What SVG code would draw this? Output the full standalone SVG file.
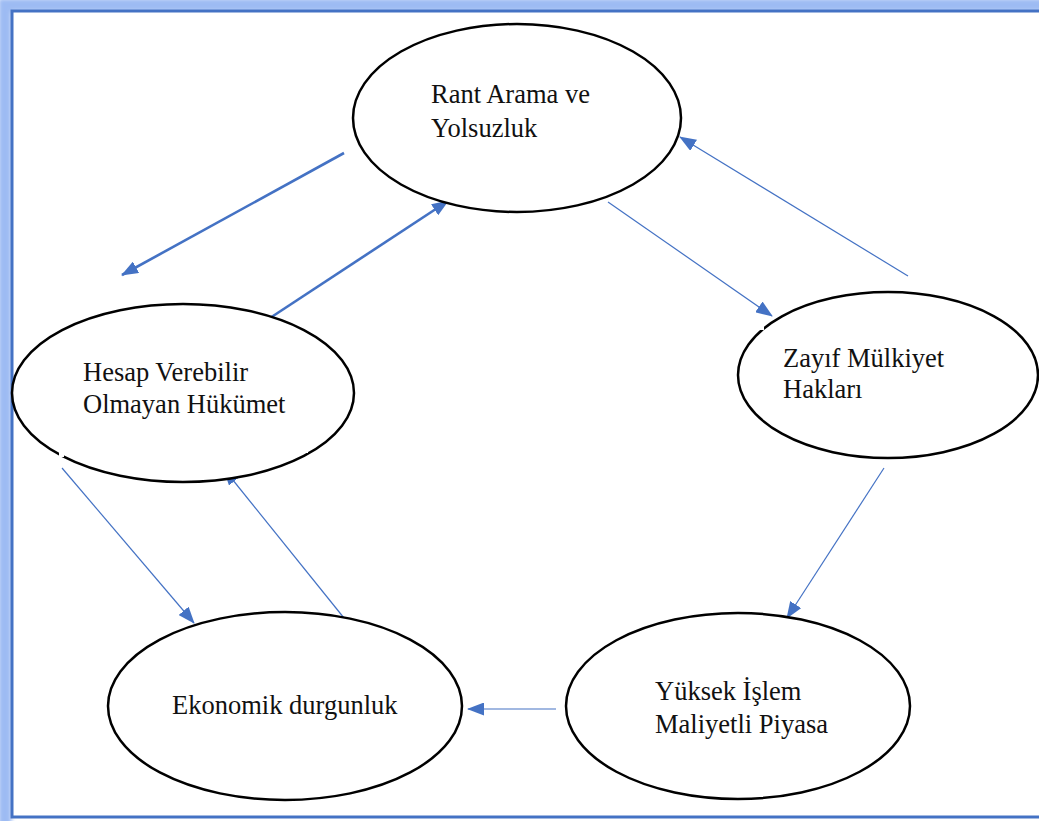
<svg xmlns="http://www.w3.org/2000/svg" width="1039" height="821" viewBox="0 0 1039 821">
  <defs>
    <style>
      .node ellipse { fill: #ffffff; stroke: #000000; stroke-width: 2.5; }
      .node text { font-family: "Liberation Serif", "Times New Roman", serif; font-size: 26.5px; fill: #111111; }
      .gap { fill: #ffffff; }
      .link { stroke: #4472C4; fill: none; }
      .thin { stroke-width: 1.2; marker-end: url(#head); }
      .thick { stroke-width: 2.6; marker-end: url(#head); }
    </style>
    <marker id="head" markerUnits="userSpaceOnUse" viewBox="0 0 17 13" markerWidth="17" markerHeight="13" refX="16" refY="6.5" orient="auto">
      <path d="M0,0 L17,6.5 L0,13 Z" fill="#4472C4"/>
    </marker>
    <filter id="glow" x="-5%" y="-5%" width="110%" height="110%">
      <feGaussianBlur stdDeviation="2"/>
    </filter>
  </defs>

  <rect width="1039" height="821" fill="#ffffff"/>

  <!-- page frame with soft outer glow -->
  <g id="frame">
    <rect x="5" y="5" width="1060" height="830" fill="none" stroke="#9DBBF3" stroke-width="13" filter="url(#glow)"/>
    <rect x="12" y="11" width="1060" height="806" fill="#ffffff" stroke="#4472C4" stroke-width="3"/>
  </g>

  <!-- connectors -->
  <g id="connectors">
    <line class="link thick" x1="344" y1="153" x2="122" y2="275"/>
    <line class="link thick" x1="270" y1="318" x2="448" y2="201"/>
    <line class="link thin" x1="608" y1="202" x2="772" y2="316"/>
    <line class="link thin" x1="908" y1="276" x2="680" y2="137"/>
    <line class="link thin" x1="884" y1="468" x2="787" y2="618"/>
    <line class="link thin" x1="556" y1="709" x2="468" y2="709"/>
    <line class="link thin" x1="62" y1="468" x2="194" y2="623"/>
    <line class="link thin" x1="344" y1="618" x2="224" y2="469"/>
  </g>

  <!-- nodes -->
  <g id="node-rant" class="node">
    <ellipse cx="517" cy="118" rx="164" ry="94"/>
    <text x="431" y="103">Rant Arama ve</text>
    <text x="431" y="137">Yolsuzluk</text>
  </g>

  <g id="node-hesap" class="node">
    <ellipse cx="183" cy="393" rx="171" ry="89"/>
    <rect class="gap" x="59" y="450" width="5" height="7"/>
    <rect class="gap" x="302" y="446" width="6" height="7"/>
    <text x="83" y="381">Hesap Verebilir</text>
    <text x="83" y="413">Olmayan Hükümet</text>
  </g>

  <g id="node-zayif" class="node">
    <ellipse cx="888" cy="375" rx="150" ry="83"/>
    <rect class="gap" x="760" y="326" width="4" height="4"/>
    <text x="783" y="367">Zayıf Mülkiyet</text>
    <text x="783" y="398">Hakları</text>
  </g>

  <g id="node-ekonomik" class="node">
    <ellipse cx="285" cy="706" rx="177" ry="94"/>
    <text x="172" y="714">Ekonomik durgunluk</text>
  </g>

  <g id="node-yuksek" class="node">
    <ellipse cx="738" cy="706" rx="172" ry="93"/>
    <rect class="gap" x="879" y="744" width="5" height="8"/>
    <text x="655" y="700">Yüksek İşlem</text>
    <text x="655" y="733">Maliyetli Piyasa</text>
  </g>
</svg>
